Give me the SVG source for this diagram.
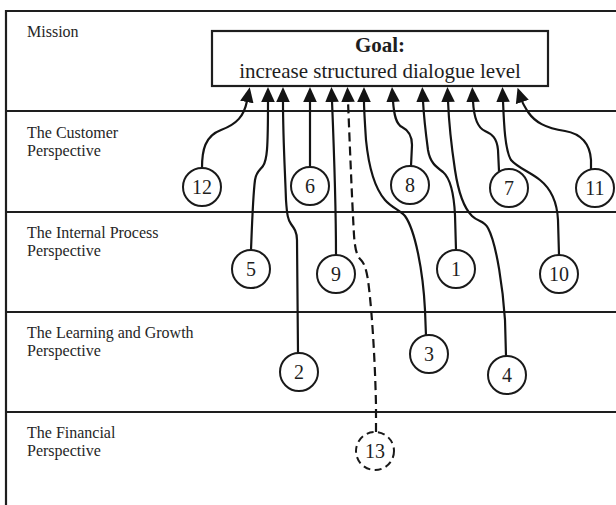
<svg xmlns="http://www.w3.org/2000/svg" width="616" height="505" viewBox="0 0 616 505">
  <style>
    .frame { fill: none; stroke: #1e1e1e; stroke-width: 2.2; }
    .lane { font-family: "Liberation Serif", "Times New Roman", serif; font-size: 16px; fill: #262626; }
    .goal { font-family: "Liberation Serif", "Times New Roman", serif; font-size: 21px; fill: #1e1e1e; text-anchor: middle; }
    .node circle { fill: #ffffff; stroke: #1a1a1a; stroke-width: 2; }
    .node text { font-family: "Liberation Serif", "Times New Roman", serif; font-size: 20px; fill: #1e1e1e; text-anchor: middle; }
    .dashed circle { stroke-dasharray: 7 4.5; }
    .link { fill: none; stroke: #141414; stroke-width: 2.2; marker-end: url(#arrow); }
    .link.dash { stroke-dasharray: 9 5; }
  </style>
  <defs>
    <marker id="arrow" markerUnits="userSpaceOnUse" viewBox="0 -7 15 14" markerWidth="15" markerHeight="14" refX="1" refY="0" orient="auto">
      <path d="M0,-6.8 L15,0 L0,6.8 Z" fill="#141414"/>
    </marker>
  </defs>

  <rect width="616" height="505" fill="#ffffff"/>

  <!-- outer frame and lane dividers -->
  <g id="lanes" class="frame">
    <path d="M6,505 L6,11 L616,11"/>
    <line x1="5" y1="111" x2="616" y2="111"/>
    <line x1="5" y1="212" x2="616" y2="212"/>
    <line x1="5" y1="312" x2="616" y2="312"/>
    <line x1="5" y1="412" x2="616" y2="412"/>
  </g>

  <!-- lane titles -->
  <g id="lane-labels" class="lane">
    <text x="27" y="37">Mission</text>
    <text x="27" y="138">The Customer</text>
    <text x="27" y="156">Perspective</text>
    <text x="27" y="238">The Internal Process</text>
    <text x="27" y="256">Perspective</text>
    <text x="27" y="338">The Learning and Growth</text>
    <text x="27" y="356">Perspective</text>
    <text x="27" y="438">The Financial</text>
    <text x="27" y="456">Perspective</text>
  </g>

  <!-- goal box -->
  <g id="goal">
    <rect x="212" y="31" width="336" height="55" fill="#ffffff" stroke="#1e1e1e" stroke-width="2.2"/>
    <text class="goal" x="380" y="52" font-weight="bold">Goal:</text>
    <text class="goal" x="380" y="78">increase structured dialogue level</text>
  </g>

  <!-- connectors: each runs from a numbered node up to the goal -->
  <g id="connectors">
    <path id="c12" class="link" d="M202,168 C202,150 205,136 221,130 C237,124 244,116 247,101"/>
    <path id="c5" class="link" d="M251,250 C252,225 253,195 255,180 C256,172 260,170 263,166 C267,160 268,150 268,101"/>
    <path id="c2" class="link" d="M298,353 L297,240 C297,232 294,228 291,224 C288,220 287,215 286,200 C285,170 283,140 283,101"/>
    <path id="c6" class="link" d="M310,167 L310,101"/>
    <path id="c9" class="link" d="M336,255 C336,200 334,150 332,101"/>
    <path id="c13" class="link dash" d="M376,432 L376,405 C375,360 372,310 368,280 C366,268 364,263 361,260 C357,256 355,250 354,235 C352,200 350,150 348,101"/>
    <path id="c3" class="link" d="M426,336 L425,310 C423,270 415,230 405,216 C400,210 392,208 385,200 C372,185 368,160 366,140 C365,125 364,110 364,101"/>
    <path id="c8" class="link" d="M411,166 L412,145 C412,135 408,130 402,127 C396,124 394,115 393,101"/>
    <path id="c1" class="link" d="M456,250 L455,215 C454,195 450,178 443,172 C435,166 430,162 428,150 C426,135 424,120 423,101"/>
    <path id="c4" class="link" d="M506,356 L505,320 C503,290 497,245 488,228 C484,220 478,222 472,216 C464,208 458,190 455,170 C452,150 449,125 448,101"/>
    <path id="c7" class="link" d="M499,171 L498,150 C497,138 492,134 485,131 C478,128 474,120 473,101"/>
    <path id="c10" class="link" d="M559,255 L558,220 C557,200 550,188 540,180 C530,172 518,168 511,160 C505,150 504,125 503,101"/>
    <path id="c11" class="link" d="M591,170 L591,160 C590,145 582,134 565,131 C545,128 535,122 528,112 C525,107 523,104 522,101"/>
  </g>

  <!-- numbered nodes -->
  <g id="n12" class="node"><circle cx="202" cy="187" r="19"/><text x="202" cy="0" y="194">12</text></g>
  <g id="n6" class="node"><circle cx="310" cy="186" r="19"/><text x="310" y="193">6</text></g>
  <g id="n8" class="node"><circle cx="410" cy="185" r="19"/><text x="410" y="192">8</text></g>
  <g id="n7" class="node"><circle cx="509" cy="188" r="19"/><text x="509" y="195">7</text></g>
  <g id="n11" class="node"><circle cx="595" cy="188" r="19"/><text x="595" y="195">11</text></g>
  <g id="n5" class="node"><circle cx="251" cy="269" r="19"/><text x="251" y="276">5</text></g>
  <g id="n9" class="node"><circle cx="336" cy="274" r="19"/><text x="336" y="281">9</text></g>
  <g id="n1" class="node"><circle cx="456" cy="269" r="19"/><text x="456" y="276">1</text></g>
  <g id="n10" class="node"><circle cx="559" cy="274" r="19"/><text x="559" y="281">10</text></g>
  <g id="n2" class="node"><circle cx="299" cy="372" r="19"/><text x="299" y="379">2</text></g>
  <g id="n3" class="node"><circle cx="429" cy="354" r="19"/><text x="429" y="361">3</text></g>
  <g id="n4" class="node"><circle cx="507" cy="375" r="19"/><text x="507" y="382">4</text></g>
  <g id="n13" class="node dashed"><circle cx="375" cy="451" r="19"/><text x="375" y="458">13</text></g>
</svg>
